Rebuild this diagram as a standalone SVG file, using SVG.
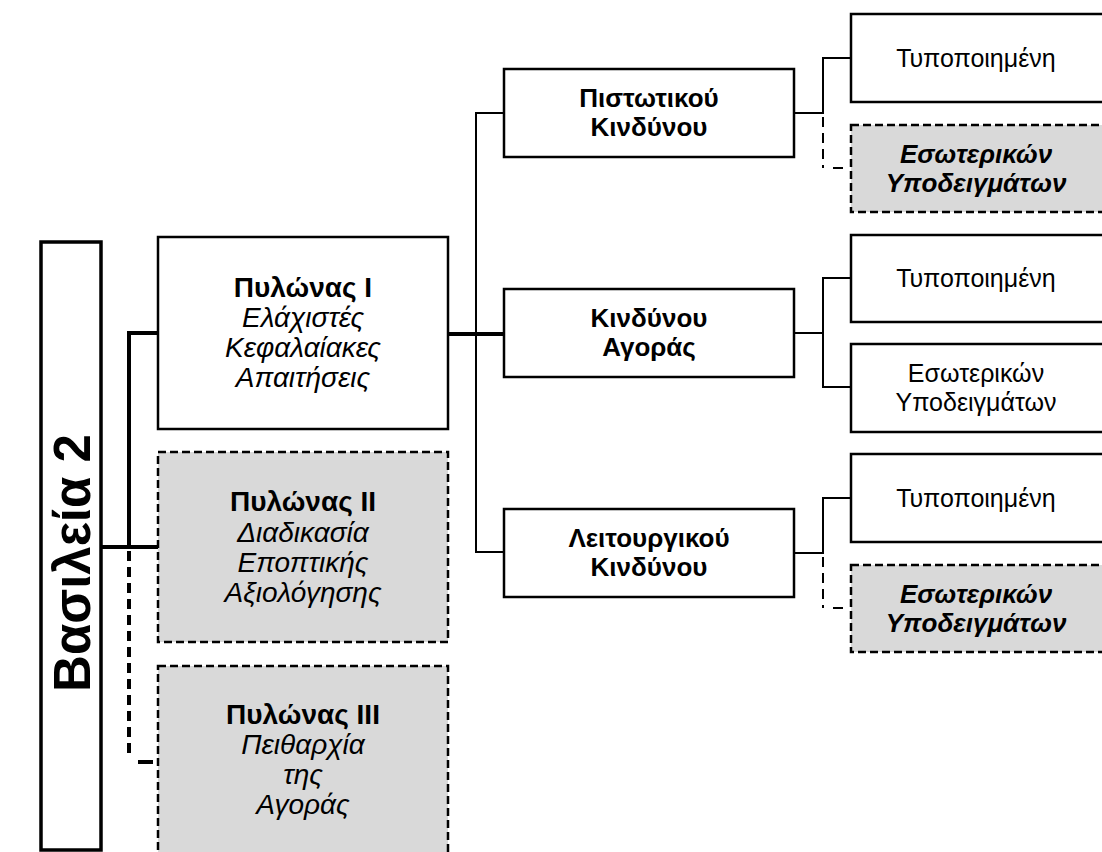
<svg xmlns="http://www.w3.org/2000/svg" width="1102" height="852" viewBox="0 0 1102 852">
<style>
.box{fill:#ffffff;stroke:#000;stroke-width:2.5}
.dbox{fill:#d9d9d9;stroke:#000;stroke-width:2.5;stroke-dasharray:8 4}
.t{font-family:"Liberation Sans",Arial,sans-serif;fill:#000;text-anchor:middle}
.pb{font-size:28px;font-weight:bold}
.pi{font-size:28px;font-style:italic}
.rb{font-size:26px;font-weight:bold}
.rr{font-size:25px}
.rbi{font-size:26px;font-weight:bold;font-style:italic}
.thick{fill:none;stroke:#000;stroke-width:4}
.thin{fill:none;stroke:#000;stroke-width:2}
.thickd{fill:none;stroke:#000;stroke-width:4;stroke-dasharray:10 6}
.thind{fill:none;stroke:#000;stroke-width:2;stroke-dasharray:10 6}
</style>
<rect width="1102" height="852" fill="#ffffff"/>
<g id="connectors">
<path class="thick" d="M101 547 H158"/>
<path class="thick" d="M129 549 V333 H158"/>
<path class="thickd" d="M129 551 V757"/>
<path class="thick" d="M138 762 H153"/>
<path class="thick" d="M448 334 H504"/>
<path class="thin" d="M504 113 H476 V552 H504"/>
<path class="thin" d="M794 113 H823 V58 H851"/>
<path class="thind" d="M823 117 V168"/>
<path class="thin" d="M833 168 H843"/>
<path class="thin" d="M794 333 H823"/>
<path class="thin" d="M851 278 H823 V387 H851"/>
<path class="thin" d="M794 553 H823 V498 H851"/>
<path class="thind" d="M823 557 V608"/>
<path class="thin" d="M833 608 H843"/>
</g>
<g id="basel2">
<rect x="41" y="242" width="60" height="608" fill="#ffffff" stroke="#000" stroke-width="3.5"/>
<text class="t" transform="translate(90,563) rotate(-90)" font-size="51" font-weight="bold">Βασιλεία 2</text>
</g>
<g id="pylon1">
<rect class="box" x="158" y="237" width="290" height="192"/>
<text class="t pb" x="303" y="297">Πυλώνας Ι</text>
<text class="t pi" x="303" y="327">Ελάχιστές</text>
<text class="t pi" x="303" y="357">Κεφαλαίακες</text>
<text class="t pi" x="303" y="387">Απαιτήσεις</text>
</g>
<g id="pylon2">
<rect class="dbox" x="158" y="452" width="290" height="190"/>
<text class="t pb" x="303" y="511">Πυλώνας ΙΙ</text>
<text class="t pi" x="303" y="542">Διαδικασία</text>
<text class="t pi" x="303" y="572">Εποπτικής</text>
<text class="t pi" x="303" y="602">Αξιολόγησης</text>
</g>
<g id="pylon3">
<rect class="dbox" x="158" y="666" width="290" height="210"/>
<text class="t pb" x="303" y="724">Πυλώνας ΙΙΙ</text>
<text class="t pi" x="303" y="754">Πειθαρχία</text>
<text class="t pi" x="303" y="784">της</text>
<text class="t pi" x="303" y="814">Αγοράς</text>
</g>
<g id="credit">
<rect class="box" x="504" y="69" width="290" height="88"/>
<text class="t rb" x="649" y="107">Πιστωτικού</text>
<text class="t rb" x="649" y="136">Κινδύνου</text>
</g>
<g id="market">
<rect class="box" x="504" y="289" width="290" height="88"/>
<text class="t rb" x="649" y="327">Κινδύνου</text>
<text class="t rb" x="649" y="356">Αγοράς</text>
</g>
<g id="operational">
<rect class="box" x="504" y="509" width="290" height="88"/>
<text class="t rb" x="649" y="547">Λειτουργικού</text>
<text class="t rb" x="649" y="576">Κινδύνου</text>
</g>
<g id="credit-std">
<rect class="box" x="851" y="14" width="270" height="88"/>
<text class="t rr" x="976" y="67">Τυποποιημένη</text>
</g>
<g id="credit-irb">
<rect class="dbox" x="851" y="125" width="270" height="87"/>
<text class="t rbi" x="976" y="163">Εσωτερικών</text>
<text class="t rbi" x="976" y="192">Υποδειγμάτων</text>
</g>
<g id="market-std">
<rect class="box" x="851" y="235" width="270" height="87"/>
<text class="t rr" x="976" y="287">Τυποποιημένη</text>
</g>
<g id="market-ima">
<rect class="box" x="851" y="344" width="270" height="88"/>
<text class="t rr" x="976" y="382">Εσωτερικών</text>
<text class="t rr" x="976" y="411">Υποδειγμάτων</text>
</g>
<g id="op-std">
<rect class="box" x="851" y="454" width="270" height="88"/>
<text class="t rr" x="976" y="507">Τυποποιημένη</text>
</g>
<g id="op-ama">
<rect class="dbox" x="851" y="565" width="270" height="87"/>
<text class="t rbi" x="976" y="603">Εσωτερικών</text>
<text class="t rbi" x="976" y="632">Υποδειγμάτων</text>
</g>
</svg>
